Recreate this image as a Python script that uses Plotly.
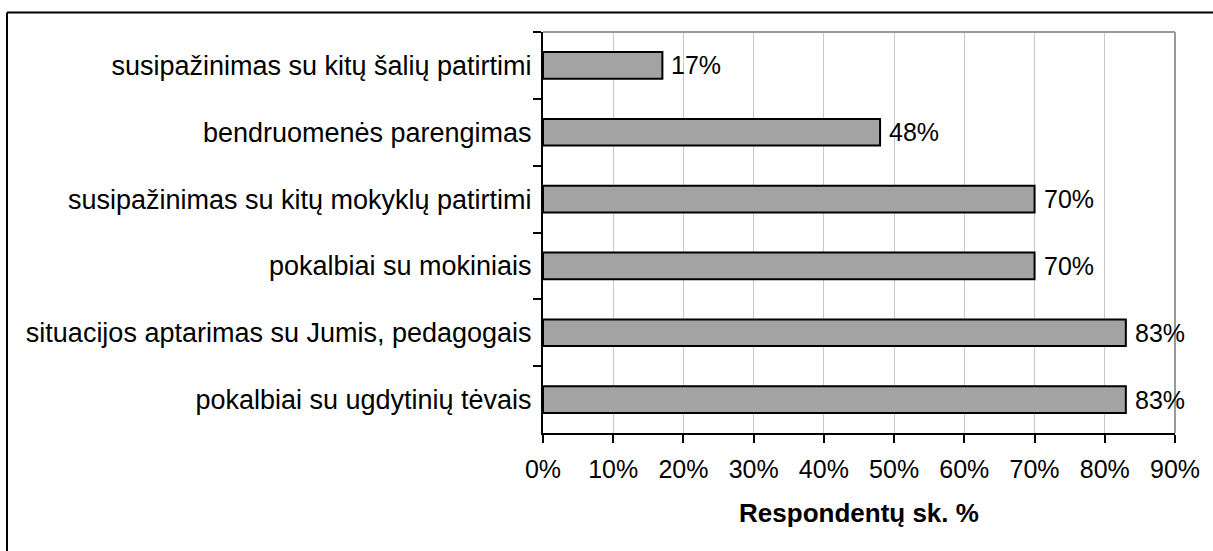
import plotly.graph_objects as go

# Survey answers, listed top to bottom as they appear on the chart
categories = [
    "susipažinimas su kitų šalių patirtimi",
    "bendruomenės parengimas",
    "susipažinimas su kitų mokyklų patirtimi",
    "pokalbiai su mokiniais",
    "situacijos aptarimas su Jumis, pedagogais",
    "pokalbiai su ugdytinių tėvais",
]
values = [17, 48, 70, 70, 83, 83]
x_ticks = [0, 10, 20, 30, 40, 50, 60, 70, 80, 90]
x_tick_labels = [f"{t}%" for t in x_ticks]
x_title = "Respondentų sk. %"

W, H = 1213, 551
L, R, T, B = 543, 38, 32, 118
pw, ph = W - L - R, H - T - B

FONT = "Liberation Sans, Arial, sans-serif"

fig = go.Figure(
    go.Bar(
        x=values,
        y=categories,
        orientation="h",
        width=0.4,
        marker=dict(color="#a3a3a3", line=dict(color="#000000", width=2)),
        hoverinfo="x+y",
    )
)

# value labels to the right of each bar
for c, v in zip(categories, values):
    fig.add_annotation(
        x=v, y=c, text=f"{v}%", showarrow=False,
        xanchor="left", yanchor="middle", xshift=7,
        font=dict(family=FONT, size=25, color="#000000"),
    )

def px_x(p):
    return (p - L) / pw

def px_y(p):
    return (H - B - p) / ph

shapes = [
    # grey frame on top and right of the plot area
    dict(type="line", xref="paper", yref="paper", x0=0, x1=1, y0=1, y1=1,
         line=dict(color="#9a9a9a", width=2)),
    dict(type="line", xref="paper", yref="paper", x0=1, x1=1, y0=0, y1=1,
         line=dict(color="#9a9a9a", width=2)),
    # outer chart border (left and top edges visible)
    dict(type="line", xref="paper", yref="paper", x0=px_x(7), x1=px_x(W + 20),
         y0=px_y(12.5), y1=px_y(12.5), line=dict(color="#000000", width=2)),
    dict(type="line", xref="paper", yref="paper", x0=px_x(7), x1=px_x(7),
         y0=px_y(12.5), y1=px_y(H + 20), line=dict(color="#000000", width=2)),
]

fig.update_layout(
    width=W, height=H,
    margin=dict(l=L, r=R, t=T, b=B, pad=0),
    paper_bgcolor="#ffffff",
    plot_bgcolor="#ffffff",
    showlegend=False,
    shapes=shapes,
    font=dict(family=FONT, size=25, color="#000000"),
    xaxis=dict(
        range=[0, 90],
        tickvals=x_ticks,
        ticktext=x_tick_labels,
        ticks="outside", ticklen=8, tickwidth=2, tickcolor="#000000",
        showgrid=True, gridcolor="#c8c8c8", gridwidth=1,
        showline=True, linecolor="#000000", linewidth=2,
        zeroline=False,
        tickfont=dict(family=FONT, size=25),
        ticklabelstandoff=5,
        title=dict(text=f"<b>{x_title}</b>", font=dict(family=FONT, size=26), standoff=22),
    ),
    yaxis=dict(
        type="category",
        autorange="reversed",
        tickson="boundaries",
        ticks="outside", ticklen=8, tickwidth=2, tickcolor="#000000",
        showgrid=False,
        showline=True, linecolor="#000000", linewidth=2,
        tickfont=dict(family=FONT, size=27),
        ticklabelstandoff=4,
    ),
)

fig.write_html("out.html")
